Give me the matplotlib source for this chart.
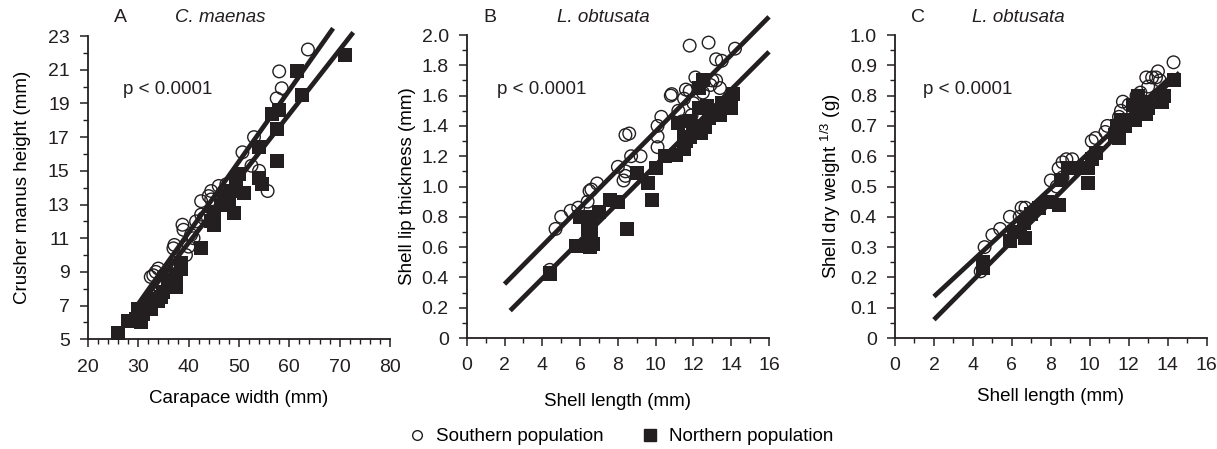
import numpy as np
import matplotlib
matplotlib.use("Agg")
import matplotlib.pyplot as plt
from matplotlib.lines import Line2D

plt.rcParams["font.family"] = ["Liberation Sans", "DejaVu Sans"]
plt.rcParams["font.size"] = 13

INK = "#231f20"

# --- Panel A : C. maenas (carapace width vs crusher manus height)
a_south_x = [63.7, 58.0, 58.5, 57.5, 55.7, 53.0, 50.7, 52.5, 54.0, 49.5, 47.5, 46.0, 44.5, 44.0,
             45.5, 44.5, 42.5, 42.5, 41.5, 40.5, 38.8, 39.0, 39.5, 37.2, 37.0, 37.5, 36.0, 34.0,
             33.5, 33.0, 32.5, 35.0, 41.0, 48.0, 46.5, 43.0, 40.0]
a_south_y = [22.2, 20.9, 19.9, 19.3, 13.8, 17.0, 16.1, 15.3, 15.0, 14.5, 14.2, 14.1, 13.8, 13.5,
             13.0, 13.3, 13.2, 12.4, 12.0, 11.2, 11.8, 11.5, 10.0, 10.6, 10.4, 9.4, 9.0, 9.2,
             9.0, 8.8, 8.7, 8.8, 11.0, 13.8, 13.4, 12.2, 10.5]
a_north_x = [71.0, 61.5, 62.5, 56.5, 58.0, 57.5, 57.5, 54.0, 54.0, 54.5, 51.0, 49.5, 50.0, 49.0,
             48.5, 48.0, 46.5, 45.0, 45.0, 44.5, 42.5, 38.5, 38.5, 37.5, 37.5, 35.0, 34.5, 34.0,
             33.0, 32.0, 32.5, 30.0, 31.0, 29.5, 30.5, 28.0, 26.0, 36.0, 47.0]
a_north_y = [21.9, 20.9, 19.5, 18.4, 18.6, 17.5, 15.6, 16.4, 14.6, 14.2, 13.7, 14.4, 14.8, 12.5,
             13.8, 13.3, 13.0, 12.5, 11.8, 12.0, 10.4, 9.5, 9.2, 8.8, 8.1, 7.8, 7.5, 7.3,
             7.4, 7.0, 6.8, 6.8, 6.5, 6.2, 6.0, 6.1, 5.4, 8.5, 13.5]
# regression lines: (intercept, slope, x start, x end)
a_south_fit = [-5.6, 0.423, 30.0, 68.7]
a_north_fit = [-4.56, 0.382, 30.0, 72.7]

# --- Panel B : L. obtusata shell lip thickness
b_south_x = [14.2, 12.8, 11.8, 13.2, 13.5, 12.1, 13.0, 13.2, 13.4, 12.9, 11.6, 11.8, 10.8, 10.85,
             11.5, 11.2, 12.0, 11.9, 10.3, 10.1, 10.1, 10.1, 8.4, 8.6, 8.7, 9.2, 8.0, 8.4, 8.4,
             8.3, 6.9, 6.5, 6.6, 6.4, 5.9, 5.5, 5.0, 4.7, 4.4, 12.5, 11.4]
b_south_y = [1.91, 1.95, 1.93, 1.84, 1.83, 1.72, 1.70, 1.70, 1.65, 1.67, 1.64, 1.63, 1.60, 1.61,
             1.58, 1.50, 1.55, 1.47, 1.46, 1.40, 1.33, 1.26, 1.34, 1.35, 1.20, 1.20, 1.13, 1.10, 1.07,
             1.04, 1.02, 0.97, 0.98, 0.90, 0.86, 0.84, 0.80, 0.72, 0.45, 1.62, 1.43]
b_north_x = [12.5, 12.3, 14.1, 13.5, 12.7, 12.3, 14.0, 13.4, 11.2, 11.8, 12.0, 12.6, 12.4, 11.5,
             11.6, 11.8, 11.5, 11.1, 10.5, 10.0, 9.0, 9.6, 9.8, 8.5, 8.0, 7.6, 7.0, 6.4, 6.0,
             6.6, 6.4, 6.6, 6.5, 6.7, 5.8, 4.4, 4.4, 12.8]
b_north_y = [1.70, 1.65, 1.61, 1.55, 1.53, 1.52, 1.52, 1.47, 1.42, 1.43, 1.40, 1.39, 1.35, 1.33,
             1.30, 1.33, 1.25, 1.21, 1.20, 1.12, 1.09, 1.02, 0.91, 0.72, 0.90, 0.91, 0.83, 0.80, 0.80,
             0.76, 0.72, 0.68, 0.60, 0.62, 0.61, 0.43, 0.42, 1.45]
b_south_fit = [0.104, 0.126, 2.0, 16.0]
b_north_fit = [-0.106, 0.1247, 2.3, 16.0]

# --- Panel C : L. obtusata shell dry weight^(1/3)
c_south_x = [14.3, 13.5, 12.9, 13.2, 13.4, 13.6, 12.6, 11.7, 12.0, 11.6, 11.5, 10.9, 10.8, 10.1,
             10.3, 9.1, 8.8, 8.6, 8.4, 8.6, 8.0, 8.3, 6.5, 6.7, 6.4, 5.9, 5.4, 5.0, 4.6, 4.4,
             12.4, 13.0]
c_south_y = [0.91, 0.88, 0.86, 0.86, 0.86, 0.85, 0.81, 0.78, 0.77, 0.75, 0.73, 0.70, 0.68, 0.65,
             0.66, 0.59, 0.59, 0.58, 0.56, 0.53, 0.52, 0.50, 0.43, 0.43, 0.40, 0.40, 0.36, 0.34, 0.30, 0.22,
             0.80, 0.83]
c_north_x = [14.3, 13.8, 13.7, 12.5, 12.8, 13.0, 12.2, 12.9, 12.3, 11.6, 11.4, 11.8, 11.3, 11.5,
             10.3, 10.1, 9.9, 9.5, 9.9, 8.9, 8.5, 8.4, 7.8, 7.4, 7.0, 6.6, 6.7, 6.4, 6.1, 5.9,
             4.5, 4.5, 12.7]
c_north_y = [0.85, 0.80, 0.78, 0.80, 0.78, 0.76, 0.77, 0.74, 0.72, 0.72, 0.70, 0.70, 0.67, 0.66,
             0.61, 0.59, 0.56, 0.56, 0.51, 0.56, 0.52, 0.44, 0.45, 0.43, 0.41, 0.38, 0.33, 0.35, 0.35, 0.32,
             0.25, 0.23, 0.75]
c_south_fit = [0.0176, 0.0596, 2.0, 14.3]
c_north_fit = [-0.069, 0.0647, 2.0, 14.6]

a_yticks = [5, 7, 9, 11, 13, 15, 17, 19, 21, 23]
b_yticks = [0, 0.2, 0.4, 0.6, 0.8, 1.0, 1.2, 1.4, 1.6, 1.8, 2.0]
b_ylabels = ["0", "0.2", "0.4", "0.6", "0.8", "1.0", "1.2", "1.4", "1.6", "1.8", "2.0"]
c_yticks = [0, 0.1, 0.2, 0.3, 0.4, 0.5, 0.6, 0.7, 0.8, 0.9, 1.0]
c_ylabels = ["0", "0.1", "0.2", "0.3", "0.4", "0.5", "0.6", "0.7", "0.8", "0.9", "1.0"]

TICK_FS = 14
LAB_FS = 13.5

fig = plt.figure(figsize=(12.17, 4.49), dpi=100)
axA = fig.add_axes([0.0721, 0.2443, 0.2484, 0.6755])
axB = fig.add_axes([0.3835, 0.2472, 0.2484, 0.6748])
axC = fig.add_axes([0.7354, 0.2472, 0.2561, 0.6748])


def draw(ax, sx, sy, nx, ny, sfit, nfit):
    for fit in (sfit, nfit):
        xs = np.array([fit[2], fit[3]])
        ax.plot(xs, fit[0] + fit[1] * xs, color=INK, lw=3.4, solid_capstyle="butt",
                clip_on=False, zorder=3)
    ax.scatter(sx, sy, s=82, facecolors="none", edgecolors=INK, linewidths=1.0,
               zorder=2, clip_on=False)
    ax.scatter(nx, ny, marker="s", s=95, color=INK, linewidths=0, zorder=2, clip_on=False)
    for side in ("top", "right"):
        ax.spines[side].set_visible(False)
    for side in ("left", "bottom"):
        ax.spines[side].set_linewidth(1.3)
        ax.spines[side].set_color(INK)
    ax.tick_params(which="major", direction="out", length=6, width=1.1, pad=7,
                   labelsize=TICK_FS, colors=INK)
    ax.tick_params(which="minor", direction="out", length=3.5, width=1.0, colors=INK)
    ax.tick_params(axis="x", pad=8)


draw(axA, a_south_x, a_south_y, a_north_x, a_north_y, a_south_fit, a_north_fit)
axA.set_xlim(20, 80)
axA.set_ylim(5, 23)
axA.set_xticks(range(20, 81, 10))
axA.set_xticks(range(20, 81, 2), minor=True)
axA.set_yticks(a_yticks)
axA.set_yticks(range(5, 24), minor=True)
axA.set_xlabel("Carapace width (mm)", fontsize=LAB_FS, labelpad=10)
axA.set_ylabel("Crusher manus height (mm)", fontsize=LAB_FS, labelpad=12)

draw(axB, b_south_x, b_south_y, b_north_x, b_north_y, b_south_fit, b_north_fit)
axB.set_xlim(0, 16)
axB.set_ylim(0, 2.0)
axB.set_xticks(range(0, 17, 2))
axB.set_xticks(range(0, 17), minor=True)
axB.set_yticks(b_yticks, b_ylabels)
axB.set_yticks(np.arange(0, 2.01, 0.1), minor=True)
axB.set_xlabel("Shell length (mm)", fontsize=LAB_FS, labelpad=13)
axB.set_ylabel("Shell lip thickness (mm)", fontsize=LAB_FS, labelpad=4)

draw(axC, c_south_x, c_south_y, c_north_x, c_north_y, c_south_fit, c_north_fit)
axC.set_xlim(0, 16)
axC.set_ylim(0, 1.0)
axC.set_xticks(range(0, 17, 2))
axC.set_xticks(range(0, 17), minor=True)
axC.set_yticks(c_yticks, c_ylabels)
axC.set_yticks(np.arange(0, 1.001, 0.05), minor=True)
axC.set_xlabel("Shell length (mm)", fontsize=LAB_FS, labelpad=10)
axC.set_ylabel(r"Shell dry weight $^{\mathregular{1/3}}$ (g)", fontsize=LAB_FS, labelpad=5)

# panel letters, species names and p-values (figure pixel positions / 1217 x 449)
panel_letters = ["A", "B", "C"]
letter_x = [120, 490, 918]
species = ["C. maenas", "L. obtusata", "L. obtusata"]
species_x = [175, 557, 972]
pval_x = [123, 497, 923]
W, H = 1217.0, 449.0
for i in range(3):
    fig.text(letter_x[i] / W, 1 - 17 / H, panel_letters[i], fontsize=14, color=INK,
             ha="center", va="center")
    fig.text(species_x[i] / W, 1 - 18 / H, species[i], fontsize=13.5, style="italic",
             color=INK, ha="left", va="center")
    fig.text(pval_x[i] / W, 1 - 90 / H, "p < 0.0001", fontsize=13.5, color=INK,
             ha="left", va="center")

handles = [
    Line2D([], [], ls="none", marker="o", ms=7, mfc="none", mec=INK, mew=1.0,
           label="Southern population"),
    Line2D([], [], ls="none", marker="s", ms=9, mfc=INK, mec=INK, label="Northern population"),
]
fig.legend(handles=handles, loc="center", bbox_to_anchor=(0.51, 0.027), ncol=2,
           frameon=False, fontsize=13.5, handletextpad=0.5, columnspacing=2.0,
           handlelength=1.0)

fig.savefig("out.png", dpi=100)
